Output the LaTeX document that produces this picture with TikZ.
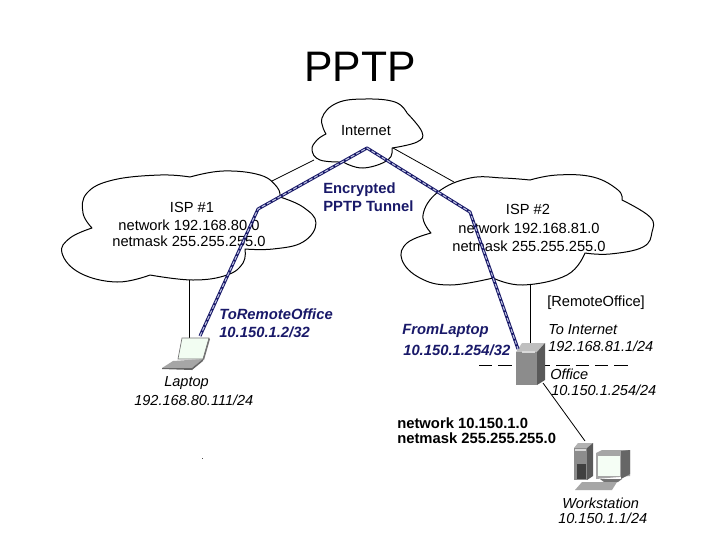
\documentclass[tikz,border=0pt]{standalone}
\usepackage{fontspec}
\setmainfont{Liberation Sans}
\definecolor{tunnelblue}{RGB}{25,25,105}
\definecolor{tunnellight}{RGB}{190,195,225}
\tikzset{
  cloudshape/.style={draw=black,fill=white,line width=0.75pt,line join=round},
  link/.style={draw=black,line width=0.6pt},
  tunnelbase/.style={draw=tunnelblue,line width=2.3pt,line join=round},
  tunneldash/.style={draw=tunnellight,line width=0.8pt,line join=round,dash pattern=on 3pt off 1.5pt},
  plain/.style={inner sep=0pt,font=\fontsize{11pt}{13pt}\selectfont,text=black},
  leftplain/.style={plain,anchor=west},
  ital/.style={leftplain,font=\fontsize{10.9pt}{13pt}\itshape\selectfont},
  boldblack/.style={leftplain,font=\fontsize{11.1pt}{13pt}\bfseries\selectfont},
  blueb/.style={leftplain,text=tunnelblue,font=\fontsize{11.1pt}{13pt}\bfseries\selectfont},
  bluei/.style={leftplain,text=tunnelblue,font=\fontsize{11.1pt}{13pt}\bfseries\itshape\selectfont},
}
\begin{document}
\begin{tikzpicture}[x=0.75pt,y=-0.75pt]
\useasboundingbox[fill=white] (0,0) rectangle (720,540);
% anchors for connectors
\coordinate (ispOneTop) at (272,181);
\coordinate (netLeft) at (314,160);
\coordinate (netRight) at (393,148);
\coordinate (ispTwoTop) at (454,182);
\coordinate (ispOneBottom) at (189,280);
\coordinate (laptopTop) at (189,338);
\coordinate (ispTwoBottom) at (530,285);
\coordinate (serverTop) at (530,344);
\coordinate (serverBottom) at (543,383);
\coordinate (wsTop) at (585,441);
\coordinate (segLeft) at (479,365);
\coordinate (segRight) at (631,365);
\coordinate (tunnelA) at (200,336);
\coordinate (tunnelB) at (258,209);
\coordinate (tunnelC) at (367,148);
\coordinate (tunnelD) at (470,212);
\coordinate (tunnelE) at (518,349);
% title
\node[inner sep=0pt] (title) at (360,67) {\fontsize{32pt}{36pt}\selectfont PPTP};
% links under the clouds
\draw[link] (ispOneTop) -- (netLeft);
\draw[link] (netRight) -- (ispTwoTop);
\draw[link] (ispOneBottom) -- (laptopTop);
\draw[link] (ispTwoBottom) -- (serverTop);
\draw[link] (serverBottom) -- (wsTop);
\draw[link,dash pattern=on 10pt off 4.5pt] (segLeft) -- (segRight);
% ISP 1 cloud
\draw[cloudshape]
 plot[smooth,tension=.7] coordinates {(92,228)(83,213)(87,193)(113,180)(160,175)(190,177)}
 -- plot[smooth,tension=.7] coordinates {(190,177)(223,171)(260,175)(277,187)(280,197)}
 -- plot[smooth,tension=.7] coordinates {(280,197)(303,207)(316,223)(303,242)(273,249)(245,249)}
 -- plot[smooth,tension=.7] coordinates {(245,249)(243,263)(227,275)(193,280)(150,275)}
 -- plot[smooth,tension=.7] coordinates {(150,275)(117,282)(80,273)(62,253)(70,238)(92,228)} -- cycle;
% ISP 2 cloud
\draw[cloudshape]
 plot[smooth,tension=.7] coordinates {(431,233)(423,215)(438,192)(470,178)(503,178)(530,180)}
 -- plot[smooth,tension=.7] coordinates {(530,180)(557,175)(593,177)(618,190)(622,200)}
 -- plot[smooth,tension=.7] coordinates {(622,200)(650,217)(652,232)(643,247)(610,254)(585,253)}
 -- plot[smooth,tension=.7] coordinates {(585,253)(567,275)(523,285)(493,278)}
 -- plot[smooth,tension=.7] coordinates {(493,278)(450,285)(420,278)(402,260)(407,243)(431,233)} -- cycle;
% Internet cloud
\draw[cloudshape]
 plot[smooth,tension=.7] coordinates {(326,134)(322,118)(337,103)(365,99)(395,102)(407,113)}
 -- plot[smooth,tension=.7] coordinates {(407,113)(422,132)(417,142)(392,148)}
 -- plot[smooth,tension=.7] coordinates {(392,148)(388,160)(363,168)(343,162)}
 -- plot[smooth,tension=.7] coordinates {(343,162)(320,160)(312,150)(317,140)(326,134)} -- cycle;
% cloud texts
\node[plain] (ispOneName) at (192,207) {ISP \#1};
\node[plain] (ispOneNet) at (189,225) {network 192.168.80.0};
\node[plain] (ispOneMask) at (189,241) {netmask 255.255.255.0};
\node[plain] (ispTwoName) at (528,209) {ISP \#2};
\node[plain] (ispTwoNet) at (529,228) {network 192.168.81.0};
\node[plain] (ispTwoMask) at (529,246) {netmask 255.255.255.0};
\node[plain] (internetName) at (366,131) {Internet};
% laptop
\fill[black!12!green!5!white,draw=black!55,line width=.5pt] (182,338) -- (209,338) -- (203,359) -- (178,359) -- cycle;
\fill[black!55] (209,338) -- (210,339) -- (204,360) -- (203,359) -- cycle;
\fill[black!35] (162,368) -- (173,361) -- (203,359) -- (192,368) -- cycle;
\fill[black!60] (162,368) -- (192,368) -- (192,370) -- (162,369) -- cycle;
\fill[black!60] (192,368) -- (203,359) -- (203,361) -- (192,370) -- cycle;
% server
\fill[black!25!white] (516,352) -- (522,343) -- (545,343) -- (537,352) -- cycle;
\fill[black!45] (516,352) rectangle (537,385);
\fill[black!65] (537,352) -- (545,343) -- (545,380) -- (537,385) -- cycle;
\fill[white!85!black] (522,351) rectangle (535,353);
% workstation
\fill[black!30] (574,448) -- (578,443) -- (593,443) -- (587,448) -- cycle;
\fill[black!45] (574,448) rectangle (587,480);
\fill[black!65] (587,448) -- (593,443) -- (593,476) -- (587,480) -- cycle;
\fill[black!15] (575,449) rectangle (586,451);
\fill[black!75] (577,464) rectangle (586,479);
\fill[black!35] (596,453) -- (602,450) -- (630,450) -- (630,476) -- (596,479) -- cycle;
\fill[black!60] (621,451) -- (630,450) -- (630,474) -- (621,479) -- cycle;
\fill[black!8!green!4!white] (598,456) rectangle (620,476);
\fill[black!55] (600,479) -- (622,479) -- (618,482) -- (604,482) -- cycle;
\fill[black!35] (575,490) -- (582,482) -- (617,482) -- (612,490) -- cycle;
% other texts
\node[blueb] (tunnelOne) at (323,190) {Encrypted};
\node[blueb] (tunnelTwo) at (323,206) {PPTP Tunnel};
\node[bluei] (toRemote) at (219,314) {ToRemoteOffice};
\node[bluei] (toRemoteIp) at (219,332) {10.150.1.2/32};
\node[ital] (laptopName) at (164,383) {Laptop};
\node[ital] (laptopIp) at (134,400) {192.168.80.111/24};
\node[bluei] (fromLaptop) at (402,331) {FromLaptop};
\node[bluei] (fromLaptopIp) at (403,350) {10.150.1.254/32};
\node[leftplain] (remoteOffice) at (547,303) {[RemoteOffice]};
\node[ital] (toInternet) at (548,330) {To Internet};
\node[ital] (toInternetIp) at (548,346) {192.168.81.1/24};
\node[ital] (office) at (550,374) {Office};
\node[ital] (officeIp) at (551,390) {10.150.1.254/24};
\node[boldblack] (lanNet) at (397,423) {network 10.150.1.0};
\node[boldblack] (lanMask) at (397,438) {netmask 255.255.255.0};
\node[ital] (wsName) at (562,503) {Workstation};
\node[ital] (wsIp) at (558,518) {10.150.1.1/24};
\fill[black!70] (201.5,457.5) rectangle (203,459);
% tunnel
\draw[tunnelbase] (tunnelA) -- (tunnelB) -- (tunnelC) -- (tunnelD) -- (tunnelE);
\draw[tunneldash] (tunnelA) -- (tunnelB) -- (tunnelC) -- (tunnelD) -- (tunnelE);
\end{tikzpicture}
\end{document}
